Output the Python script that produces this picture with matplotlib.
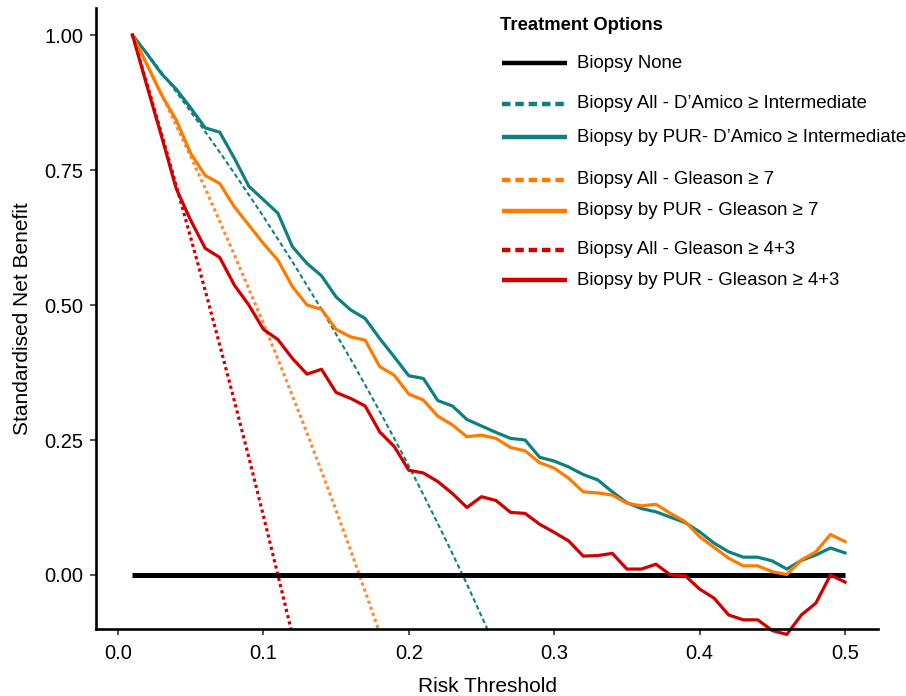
import numpy as np
import matplotlib
matplotlib.use('Agg')
import matplotlib.pyplot as plt
from matplotlib.lines import Line2D

plt.rcParams['font.family'] = ['Liberation Sans', 'DejaVu Sans']

# risk thresholds for the model curves
thr = np.round(np.arange(0.01, 0.505, 0.01), 2)

pur_damico = [1.000, 0.965, 0.928, 0.900, 0.865, 0.828, 0.820, 0.772, 0.720, 0.695,
              0.670, 0.608, 0.577, 0.554, 0.515, 0.491, 0.475, 0.438, 0.404, 0.369,
              0.364, 0.323, 0.313, 0.288, 0.276, 0.264, 0.253, 0.250, 0.218, 0.211,
              0.200, 0.186, 0.176, 0.154, 0.134, 0.123, 0.117, 0.107, 0.097, 0.080,
              0.059, 0.043, 0.033, 0.033, 0.026, 0.011, 0.027, 0.037, 0.050, 0.041]
pur_g7 = [1.000, 0.945, 0.889, 0.843, 0.781, 0.740, 0.725, 0.682, 0.648, 0.614,
          0.583, 0.534, 0.500, 0.492, 0.455, 0.441, 0.435, 0.386, 0.370, 0.335,
          0.324, 0.294, 0.278, 0.256, 0.259, 0.253, 0.236, 0.230, 0.208, 0.198,
          0.179, 0.154, 0.152, 0.148, 0.133, 0.128, 0.131, 0.114, 0.099, 0.071,
          0.051, 0.031, 0.017, 0.017, 0.006, 0.001, 0.028, 0.043, 0.075, 0.062]
pur_g43 = [1.000, 0.905, 0.812, 0.716, 0.657, 0.605, 0.588, 0.537, 0.500, 0.455,
           0.436, 0.401, 0.372, 0.381, 0.338, 0.327, 0.313, 0.265, 0.238, 0.194,
           0.189, 0.173, 0.151, 0.125, 0.145, 0.138, 0.116, 0.114, 0.094, 0.079,
           0.063, 0.035, 0.036, 0.040, 0.011, 0.011, 0.020, 0.000, -0.001, -0.026,
           -0.043, -0.074, -0.083, -0.083, -0.103, -0.110, -0.074, -0.052, 0.000, -0.013]

# biopsy-all curves
all_damico_x = [0.01, 0.02, 0.03, 0.04, 0.05, 0.06, 0.07, 0.08, 0.09, 0.10, 0.11, 0.12, 0.13,
                0.14, 0.15, 0.16, 0.17, 0.18, 0.19, 0.20, 0.21, 0.22, 0.23, 0.24, 0.25, 0.254]
all_damico = [1.000, 0.966, 0.931, 0.895, 0.858, 0.821, 0.783, 0.744, 0.704, 0.664, 0.622,
              0.580, 0.536, 0.492, 0.446, 0.400, 0.352, 0.303, 0.253, 0.202, 0.149, 0.095,
              0.040, -0.017, -0.076, -0.100]
all_g7_x = [0.01, 0.02, 0.03, 0.04, 0.05, 0.06, 0.07, 0.08, 0.09, 0.10, 0.11, 0.12, 0.13,
            0.14, 0.15, 0.16, 0.17, 0.179]
all_g7 = [1.000, 0.945, 0.890, 0.833, 0.775, 0.716, 0.655, 0.593, 0.530, 0.466, 0.400,
          0.332, 0.263, 0.192, 0.120, 0.046, -0.030, -0.100]
all_g43_x = [0.01, 0.02, 0.03, 0.04, 0.05, 0.06, 0.07, 0.08, 0.09, 0.10, 0.11, 0.119]
all_g43 = [1.000, 0.909, 0.817, 0.722, 0.625, 0.527, 0.426, 0.323, 0.218, 0.110, 0.000, -0.100]

none_x = [0.01, 0.50]
none_y = [0.0, 0.0]

teal = '#0f8080'
orange = '#ff7b00'
red = '#d00000'

fig = plt.figure(figsize=(9.06, 6.96), dpi=100)
ax = fig.add_axes([96/906, 1-629/696, (878-96)/906, (629-8)/696])

ax.plot(all_damico_x, all_damico, color=teal, lw=1.5, dashes=(2.2, 1.4))
ax.plot(all_g7_x, all_g7, color='#ff8c33', lw=2.3, dashes=(1.0, 1.0))
ax.plot(all_g43_x, all_g43, color=red, lw=2.3, dashes=(1.0, 1.0))
ax.plot(none_x, none_y, color='black', lw=3.6, solid_capstyle='butt')
ax.plot(thr, pur_damico, color=teal, lw=2.3, clip_on=False)
ax.plot(thr, pur_g7, color=orange, lw=2.3, clip_on=False)
ax.plot(thr, pur_g43, color=red, lw=2.3, clip_on=False)

ax.set_xlim(-0.0151, 0.5227)
ax.set_ylim(-0.1, 1.05)
ax.set_xticks([0.0, 0.1, 0.2, 0.3, 0.4, 0.5])
ax.set_xticklabels(['0.0', '0.1', '0.2', '0.3', '0.4', '0.5'])
ax.set_yticks([0.0, 0.25, 0.5, 0.75, 1.0])
ax.set_yticklabels(['0.00', '0.25', '0.50', '0.75', '1.00'])
ax.tick_params(labelsize=14.5, length=4, width=1.2, color='#333333', labelcolor='black')
ax.tick_params(axis='x', pad=7)
ax.tick_params(axis='y', pad=5)
ax.set_xlabel('Risk Threshold', fontsize=15, labelpad=10)
ax.set_ylabel('Standardised Net Benefit', fontsize=15, labelpad=9)
for s in ['top', 'right']:
    ax.spines[s].set_visible(False)
for s in ['left', 'bottom']:
    ax.spines[s].set_linewidth(1.9)

# legend drawn by hand to keep the grouped spacing
fig.text(500/906, 1-25/696, 'Treatment Options', fontsize=13.3, fontweight='bold', va='center', ha='left')
entries = [
    ('Biopsy None', 'black', 'solid', 63),
    ('Biopsy All - D\u2019Amico \u2265 Intermediate', teal, 'dashed', 104),
    ('Biopsy by PUR- D\u2019Amico \u2265 Intermediate', teal, 'solid', 137),
    ('Biopsy All - Gleason \u2265 7', orange, 'dashed', 180),
    ('Biopsy by PUR - Gleason \u2265 7', orange, 'solid', 211),
    ('Biopsy All - Gleason \u2265 4+3', red, 'dashed', 250),
    ('Biopsy by PUR - Gleason \u2265 4+3', red, 'solid', 280),
]
for label, col, ls, ypx in entries:
    yf = 1 - ypx/696
    ln = Line2D([502/906, 567/906], [yf, yf], transform=fig.transFigure, color=col, lw=3.2,
                solid_capstyle='butt', dash_capstyle='butt')
    if ls == 'dashed':
        ln.set_dashes((1.9, 1.1))
    fig.add_artist(ln)
    fig.text(577/906, yf, label, fontsize=13.4, va='center', ha='left')

fig.savefig('out.png', dpi=100)
